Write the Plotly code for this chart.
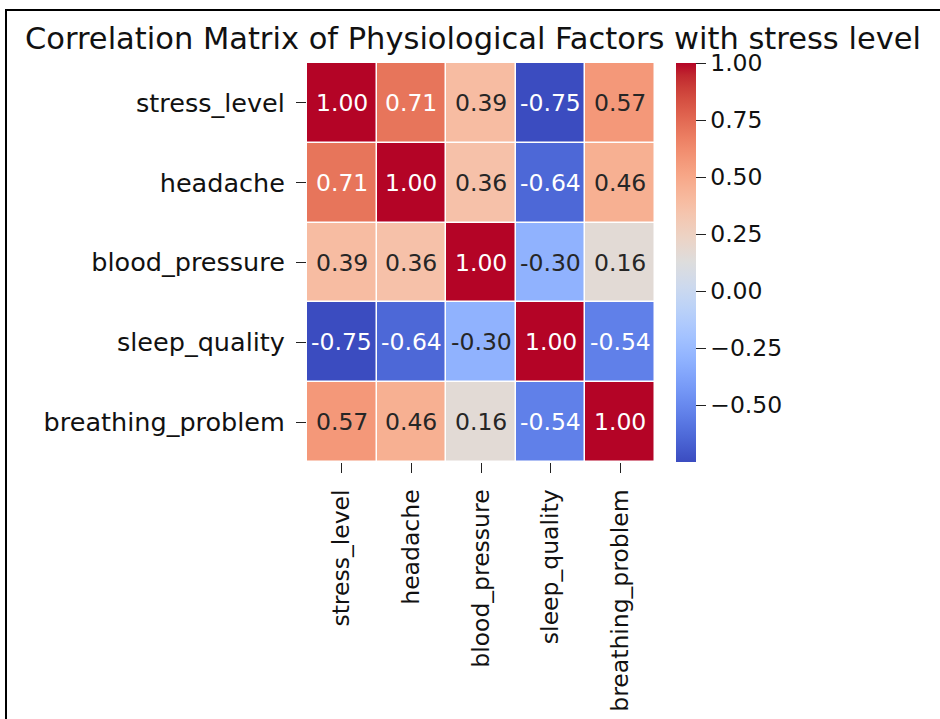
import plotly.graph_objects as go

# ---- data ----
factors = ["stress_level", "headache", "blood_pressure", "sleep_quality", "breathing_problem"]
row_stress = [1.00, 0.71, 0.39, -0.75, 0.57]
row_headache = [0.71, 1.00, 0.36, -0.64, 0.46]
row_blood = [0.39, 0.36, 1.00, -0.30, 0.16]
row_sleep = [-0.75, -0.64, -0.30, 1.00, -0.54]
row_breath = [0.57, 0.46, 0.16, -0.54, 1.00]
corr = [row_stress, row_headache, row_blood, row_sleep, row_breath]
cbar_ticks = [-0.5, -0.25, 0.0, 0.25, 0.5, 0.75, 1.0]
zmin, zmax = -0.75, 1.0

# matplotlib "coolwarm"
cw = [
    (59, 76, 192), (68, 90, 204), (77, 104, 215), (87, 117, 225), (98, 130, 234),
    (108, 142, 241), (119, 154, 247), (130, 165, 251), (141, 176, 254), (152, 185, 255),
    (163, 194, 255), (174, 201, 253), (184, 208, 249), (194, 213, 244), (204, 217, 238),
    (213, 219, 230), (221, 221, 221), (229, 216, 209), (236, 211, 197), (241, 204, 185),
    (245, 196, 173), (247, 187, 160), (247, 177, 148), (247, 166, 135), (244, 154, 123),
    (241, 141, 111), (236, 127, 99), (229, 112, 88), (222, 96, 77), (213, 80, 66),
    (203, 62, 56), (192, 40, 47), (180, 4, 38),
]
n = len(cw) - 1
colorscale = [[i / n, "rgb(%d,%d,%d)" % c] for i, c in enumerate(cw)]


def color_at(v):
    t = (v - zmin) / (zmax - zmin)
    t = min(max(t, 0), 1) * n
    i = min(int(t), n - 1)
    f = t - i
    return [cw[i][k] + (cw[i + 1][k] - cw[i][k]) * f for k in range(3)]


def lum(rgb):
    out = []
    for c in rgb:
        c = c / 255
        out.append(c / 12.92 if c <= 0.03928 else ((c + 0.055) / 1.055) ** 2.4)
    return 0.2126 * out[0] + 0.7152 * out[1] + 0.0722 * out[2]


FONT = "DejaVu Sans"
TXT = "#111"
L, R, T, B = 307, 940 - 655, 63, 719 - 462
W, H = 655 - 307, 462 - 63


def px(x):
    return (x - L) / W


def py(y):
    return (462 - y) / H


fig = go.Figure(
    go.Heatmap(
        z=corr, x=factors, y=factors,
        colorscale=colorscale, zmin=zmin, zmax=zmax,
        xgap=1.5, ygap=1.5,
        hoverongaps=False,
        colorbar=dict(
            thickness=20, thicknessmode="pixels",
            len=1, lenmode="fraction", y=0.5, yanchor="middle",
            x=px(676), xanchor="left", xref="paper", xpad=0, ypad=0,
            outlinewidth=0,
            tickvals=cbar_ticks, tickformat=".2f",
            ticks="outside", ticklen=10, tickwidth=1.3, tickcolor="#222",
            tickfont=dict(family=FONT, size=23.5, color=TXT),
        ),
    )
)

annotations = []
for r, rowname in enumerate(factors):
    for c, colname in enumerate(factors):
        v = corr[r][c]
        col = "#262626" if lum(color_at(v)) > 0.408 else "white"
        annotations.append(dict(
            x=colname, y=rowname, text="%.2f" % v,
            showarrow=False, font=dict(family=FONT, size=23.5, color=col),
        ))

fig.update_layout(
    width=940, height=719,
    margin=dict(l=L, r=R, t=T, b=B, autoexpand=False),
    paper_bgcolor="white", plot_bgcolor="white",
    font=dict(family=FONT, color=TXT),
    title=dict(
        text="Correlation Matrix of Physiological Factors with stress level",
        x=473 / 940, xanchor="center", xref="container",
        y=1 - 38.5 / 719, yanchor="middle", yref="container",
        font=dict(family=FONT, size=30.5, color=TXT),
    ),
    xaxis=dict(
        tickangle=-90, ticks="outside", ticklen=10, tickwidth=1.3, tickcolor="#222",
        tickfont=dict(family=FONT, size=23.5, color=TXT),
        showgrid=False, zeroline=False, showline=False, ticklabelstandoff=7,
    ),
    yaxis=dict(
        autorange="reversed", ticks="outside", ticklen=10, tickwidth=1.3, tickcolor="#222",
        tickfont=dict(family=FONT, size=25.5, color=TXT),
        showgrid=False, zeroline=False, showline=False, ticklabelstandoff=6,
    ),
    annotations=annotations,
    shapes=[
        dict(type="line", xref="paper", yref="paper",
             x0=px(6), x1=px(6), y0=py(9), y1=py(740),
             line=dict(color="black", width=2)),
        dict(type="line", xref="paper", yref="paper",
             x0=px(5), x1=px(960), y0=py(10), y1=py(10),
             line=dict(color="black", width=2)),
    ],
)

fig.write_html(
    "out.html",
    config={"displayModeBar": False},
    post_script="document.body.style.margin='0';document.body.style.overflow='hidden';",
)
